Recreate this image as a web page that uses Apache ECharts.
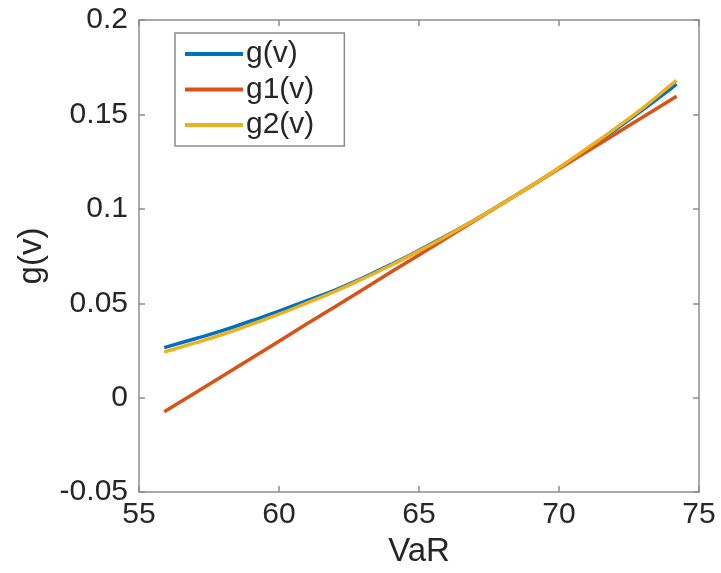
<!DOCTYPE html>
<html>
<head>
<meta charset="utf-8">
<script src="https://cdn.jsdelivr.net/npm/echarts@6/dist/echarts.min.js"></script>
<style>
  html, body { margin: 0; padding: 0; background: #fff; }
  #chart { width: 721px; height: 573px; }
</style>
</head>
<body>
<div id="chart"></div>
<script>
// VaR grid the three functions are sampled on
const varValues = [55.9, 57, 58, 59, 60, 61, 62, 63, 64, 65, 66, 67, 68, 69, 70, 71, 72, 73, 74, 74.2];

// g(v): exact function
const gValues = [0.0265, 0.0312, 0.0356, 0.0406, 0.0458, 0.0514, 0.0570, 0.0635, 0.0705, 0.0780,
                 0.0860, 0.0942, 0.1031, 0.1121, 0.1216, 0.1315, 0.1418, 0.1525, 0.1637, 0.1660];

// g1(v): first-order (linear) approximation
const g1Values = [-0.0075, 0.0025, 0.0116, 0.0208, 0.0299, 0.0391, 0.0482, 0.0573, 0.0665, 0.0756,
                  0.0847, 0.0938, 0.1030, 0.1121, 0.1212, 0.1304, 0.1395, 0.1486, 0.1578, 0.1596];

// g2(v): second-order approximation
const g2Values = [0.0242, 0.0290, 0.0336, 0.0388, 0.0442, 0.0502, 0.0563, 0.0630, 0.0701, 0.0777,
                  0.0858, 0.0942, 0.1030, 0.1122, 0.1218, 0.1320, 0.1425, 0.1535, 0.1656, 0.1680];

const seriesNames = ['g(v)', 'g1(v)', 'g2(v)'];
const seriesColors = ['#0072BD', '#D95319', '#EDB120'];

const xTicks = { min: 55, max: 75, interval: 5 };
const yTicks = { min: -0.05, max: 0.2, interval: 0.05 };

const FONT = 'Liberation Sans, Arial, Helvetica, sans-serif';
const AXIS_COLOR = '#8c8c8c';
const TEXT_COLOR = '#262626';

function pairs(ys) {
  return varValues.map((x, i) => [x, ys[i]]);
}

const chart = echarts.init(document.getElementById('chart'), null, { renderer: 'canvas' });

// box frame: every axis line stays on the grid edge
const axisLine = { show: true, onZero: false, lineStyle: { color: AXIS_COLOR, width: 1.5 } };
const axisTick = { show: true, inside: true, length: 6, lineStyle: { color: AXIS_COLOR, width: 1.5 } };

function fmt(v) {
  return String(+v.toFixed(2));
}

const option = {
  backgroundColor: '#ffffff',
  animation: false,
  grid: { left: 139, right: 22, top: 20, bottom: 80, containLabel: false },
  legend: {
    orient: 'vertical',
    left: 175,
    top: 33,
    padding: [6, 30, 6, 10],
    icon: 'rect',
    itemWidth: 58,
    itemHeight: 4,
    itemGap: 5.5,
    backgroundColor: '#ffffff',
    borderColor: AXIS_COLOR,
    borderWidth: 1.5,
    borderRadius: 0,
    textStyle: { fontFamily: FONT, fontSize: 30, color: TEXT_COLOR, lineHeight: 30, padding: [0, 0, 0, -2] },
    data: seriesNames
  },
  xAxis: [
    {
      type: 'value',
      min: xTicks.min, max: xTicks.max, interval: xTicks.interval,
      name: 'VaR',
      nameLocation: 'middle',
      nameGap: 38,
      nameTextStyle: { fontFamily: FONT, fontSize: 33, color: TEXT_COLOR },
      axisLine, axisTick,
      axisLabel: { fontFamily: FONT, fontSize: 30, color: TEXT_COLOR, margin: 8 },
      splitLine: { show: false }
    },
    {
      type: 'value', position: 'top',
      min: xTicks.min, max: xTicks.max, interval: xTicks.interval,
      axisLine, axisTick,
      axisLabel: { show: false },
      splitLine: { show: false }
    }
  ],
  yAxis: [
    {
      type: 'value',
      min: yTicks.min, max: yTicks.max, interval: yTicks.interval,
      name: 'g(v)',
      nameLocation: 'middle',
      nameGap: 88,
      nameTextStyle: { fontFamily: FONT, fontSize: 33, color: TEXT_COLOR },
      axisLine, axisTick,
      axisLabel: { fontFamily: FONT, fontSize: 30, color: TEXT_COLOR, margin: 11, formatter: fmt },
      splitLine: { show: false }
    },
    {
      type: 'value', position: 'right',
      min: yTicks.min, max: yTicks.max, interval: yTicks.interval,
      axisLine, axisTick,
      axisLabel: { show: false },
      splitLine: { show: false }
    }
  ],
  series: [gValues, g1Values, g2Values].map((vals, i) => ({
    name: seriesNames[i],
    type: 'line',
    xAxisIndex: 0,
    yAxisIndex: 0,
    data: pairs(vals),
    smooth: i !== 1,
    showSymbol: false,
    symbol: 'none',
    color: seriesColors[i],
    lineStyle: { color: seriesColors[i], width: 3.5 },
    z: 2 + i
  }))
};

chart.setOption(option);
</script>
</body>
</html>
